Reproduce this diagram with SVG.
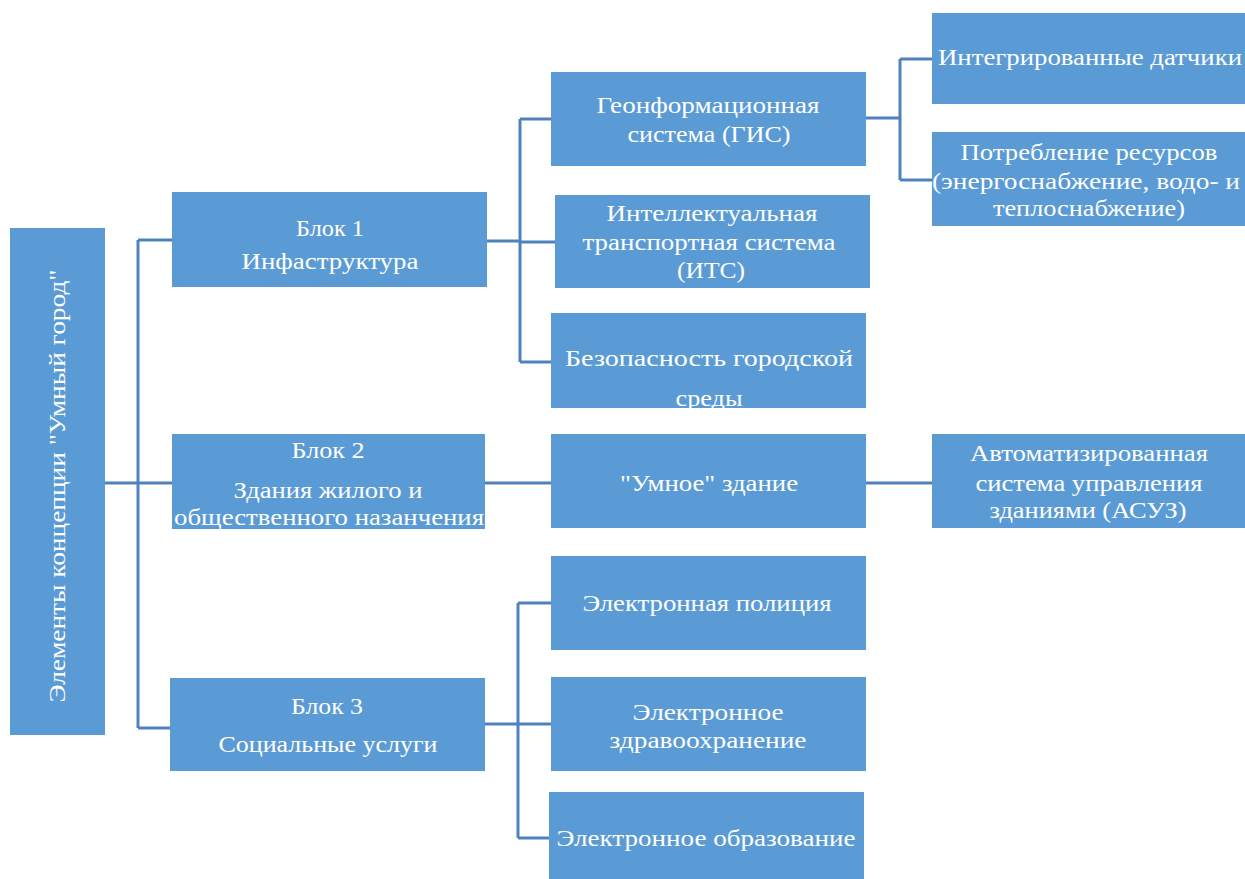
<svg xmlns="http://www.w3.org/2000/svg" width="1245" height="879" viewBox="0 0 1245 879">
<style>
.box{fill:#5b9bd5;}
.t{fill:#ffffff;font-family:"Liberation Serif","DejaVu Serif",serif;font-size:24px;text-anchor:middle;}
.c{fill:none;stroke:#4f81bd;stroke-width:3;}
</style>
<rect width="1245" height="879" fill="#ffffff"/>
<g id="connectors">
<path class="c" d="M105 483 H138 M138 240 V728 M138 240 H172 M138 483 H172 M138 728 H170"/>
<path class="c" d="M487 241 H520 M520 119 V362 M520 119 H551 M520 242 H555 M520 362 H551"/>
<path class="c" d="M866 118 H900 M900 59 V180 M900 59 H932 M900 180 H932"/>
<path class="c" d="M485 483 H551 M866 483 H932"/>
<path class="c" d="M485 724 H518 M518 603 V838 M518 603 H551 M518 724 H551 M518 838 H549"/>
</g>
<g id="root">
<rect class="box" x="10" y="228" width="95" height="507"/>
<text class="t" transform="translate(65 486) rotate(-90)" textLength="433" lengthAdjust="spacingAndGlyphs">Элементы концепции "Умный город"</text>
</g>
<g id="block1">
<rect class="box" x="172" y="192" width="315" height="95"/>
<text class="t" x="330" y="236" textLength="68" lengthAdjust="spacingAndGlyphs">Блок 1</text>
<text class="t" x="330" y="269" textLength="177" lengthAdjust="spacingAndGlyphs">Инфаструктура</text>
</g>
<g id="block2">
<rect class="box" x="172" y="434" width="313" height="95"/>
<text class="t" x="328" y="458" textLength="73" lengthAdjust="spacingAndGlyphs">Блок 2</text>
<text class="t" x="328" y="498" textLength="189" lengthAdjust="spacingAndGlyphs">Здания жилого и</text>
<text class="t" x="329" y="525" textLength="310" lengthAdjust="spacingAndGlyphs">общественного назанчения</text>
</g>
<g id="block3">
<rect class="box" x="170" y="678" width="315" height="93"/>
<text class="t" x="327" y="714" textLength="72" lengthAdjust="spacingAndGlyphs">Блок 3</text>
<text class="t" x="328" y="752" textLength="219" lengthAdjust="spacingAndGlyphs">Социальные услуги</text>
</g>
<g id="gis">
<rect class="box" x="551" y="72" width="315" height="94"/>
<text class="t" x="708" y="113" textLength="223" lengthAdjust="spacingAndGlyphs">Геонформационная</text>
<text class="t" x="709" y="142" textLength="163" lengthAdjust="spacingAndGlyphs">система (ГИС)</text>
</g>
<g id="its">
<rect class="box" x="555" y="195" width="315" height="93"/>
<text class="t" x="712" y="221" textLength="211" lengthAdjust="spacingAndGlyphs">Интеллектуальная</text>
<text class="t" x="709" y="250" textLength="253" lengthAdjust="spacingAndGlyphs">транспортная система</text>
<text class="t" x="711" y="278" textLength="68" lengthAdjust="spacingAndGlyphs">(ИТС)</text>
</g>
<g id="safety">
<rect class="box" x="551" y="313" width="315" height="95"/>
<text class="t" x="709" y="366" textLength="288" lengthAdjust="spacingAndGlyphs">Безопасность  городской</text>
<text class="t" x="709" y="406" textLength="67" lengthAdjust="spacingAndGlyphs">среды</text>
</g>
<g id="smart-building">
<rect class="box" x="551" y="434" width="315" height="94"/>
<text class="t" x="709" y="491" textLength="178" lengthAdjust="spacingAndGlyphs">"Умное" здание</text>
</g>
<g id="police">
<rect class="box" x="551" y="556" width="315" height="94"/>
<text class="t" x="707" y="611" textLength="249" lengthAdjust="spacingAndGlyphs">Электронная полиция</text>
</g>
<g id="health">
<rect class="box" x="551" y="677" width="315" height="94"/>
<text class="t" x="708" y="720" textLength="151" lengthAdjust="spacingAndGlyphs">Электронное</text>
<text class="t" x="708" y="748" textLength="197" lengthAdjust="spacingAndGlyphs">здравоохранение</text>
</g>
<g id="education">
<rect class="box" x="549" y="792" width="315" height="87"/>
<text class="t" x="706" y="846" textLength="299" lengthAdjust="spacingAndGlyphs">Электронное образование</text>
</g>
<g id="sensors">
<rect class="box" x="932" y="13" width="313" height="91"/>
<text class="t" x="1090" y="65" textLength="304" lengthAdjust="spacingAndGlyphs">Интегрированные датчики</text>
</g>
<g id="resources">
<rect class="box" x="932" y="132" width="313" height="94"/>
<text class="t" x="1089" y="160" textLength="257" lengthAdjust="spacingAndGlyphs">Потребление ресурсов</text>
<text class="t" x="1086" y="189" textLength="308" lengthAdjust="spacingAndGlyphs">(энергоснабжение, водо- и</text>
<text class="t" x="1089" y="216" textLength="192" lengthAdjust="spacingAndGlyphs">теплоснабжение)</text>
</g>
<g id="asuz">
<rect class="box" x="932" y="434" width="313" height="94"/>
<text class="t" x="1089" y="461" textLength="238" lengthAdjust="spacingAndGlyphs">Автоматизированная</text>
<text class="t" x="1089" y="491" textLength="227" lengthAdjust="spacingAndGlyphs">система управления</text>
<text class="t" x="1088" y="518" textLength="197" lengthAdjust="spacingAndGlyphs">зданиями (АСУЗ)</text>
</g>
</svg>
